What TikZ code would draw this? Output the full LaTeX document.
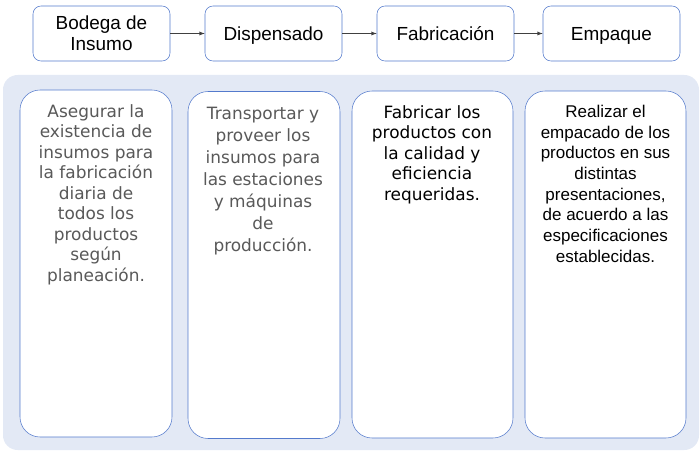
\documentclass[tikz,border=0pt]{standalone}
\usepackage{fontspec}
\newfontfamily\dejavu{DejaVu Sans}
\newfontfamily\arial{Liberation Sans}
\definecolor{boxblue}{RGB}{84,122,204}
\definecolor{panelblue}{RGB}{227,233,245}
\definecolor{txtgray}{RGB}{89,89,89}
\definecolor{arrowgray}{RGB}{64,64,64}

\begin{document}
\begin{tikzpicture}[x=0.75pt, y=-0.75pt,
    stage/.style = {draw=boxblue, fill=white, rounded corners=6pt, minimum width=102.75pt, minimum height=41.25pt, inner sep=1pt, align=center, font=\arial\fontsize{14.2}{15.75}\selectfont},
    one line/.style = {text height=10.2pt, text depth=0pt},
    task/.style = {draw=boxblue, fill=white, rounded corners=15pt, minimum height=260.25pt},
    task text/.style = {anchor=north, inner sep=0pt, align=center, font=\dejavu\fontsize{12.7}{15.4}\selectfont},
    flow/.style = {draw=arrowgray, -latex}]
    \useasboundingbox (0,0) rectangle (700,453);

    \fill[panelblue, rounded corners=11pt] (3,75) rectangle (699,450);

    \node[stage] (bodega) at (101.5,33.5) {Bodega de \\ Insumo};
    \node[stage, one line] (dispensado) at (273.5,33.5) {Dispensado};
    \node[stage, one line] (fabricacion) at (445.5,33.5) {Fabricación};
    \node[stage, one line] (empaque) at (611.5,33.5) {Empaque};

    \draw[flow] (bodega) -- (dispensado);
    \draw[flow] (dispensado) -- (fabricacion);
    \draw[flow] (fabricacion) -- (empaque);

    \begin{scope}
        \node[task, minimum width=114pt] (asegurar) at (96,263.5) {};
        \node[task text, text=txtgray] (asegurar txt) at (96,104) {Asegurar la \\ existencia de \\ insumos para \\ la fabricación \\ diaria de \\ todos los \\ productos \\ según \\ planeación.};
    \end{scope}

    \begin{scope}
        \node[task, minimum width=114pt] (transportar) at (264,265) {};
        \node[task text, text=txtgray, font=\dejavu\fontsize{12.7}{16.5}\selectfont] (transportar txt) at (263,107) {Transportar y \\ proveer los \\ insumos para \\ las estaciones \\ y máquinas \\ de \\ producción.};
    \end{scope}

    \begin{scope}
        \node[task, minimum width=120.75pt] (fabricar) at (432.5,264.5) {};
        \node[task text] (fabricar txt) at (432,105) {Fabricar los \\ productos con \\ la calidad y \\ eficiencia \\ requeridas.};
    \end{scope}

    \begin{scope}
        \node[task, minimum width=120.75pt] (realizar) at (605.5,264.5) {};
        \node[task text, font=\arial\fontsize{12.75}{15.5}\selectfont] (realizar txt) at (605.5,105) {Realizar el \\ empacado de los \\ productos en sus \\ distintas \\ presentaciones, \\ de acuerdo a las \\ especificaciones \\ establecidas.};
    \end{scope}
\end{tikzpicture}
\end{document}
